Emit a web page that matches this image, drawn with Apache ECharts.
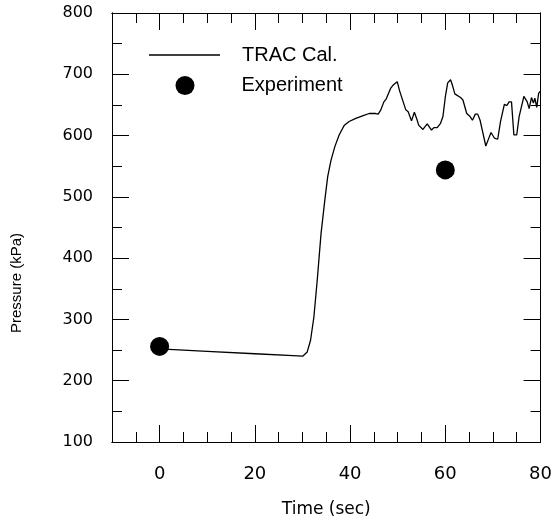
<!DOCTYPE html>
<html>
<head>
<meta charset="utf-8">
<script src="https://cdn.jsdelivr.net/npm/echarts@6/dist/echarts.min.js"></script>
<style>html,body{margin:0;padding:0;background:#fff;}#c{width:555px;height:524px;}</style>
</head>
<body>
<div id="c"></div>
<script>
// TRAC calculation: time (s) and pressure (kPa)
const tracTime = [0, 10, 20, 28, 30.05, 31.0, 31.7, 32.4, 33.1, 33.9, 34.7, 35.3, 36.0, 36.8, 37.7, 38.8, 39.8, 41.2, 42.9, 44.0, 44.7, 45.4, 45.9, 46.4, 47.1, 47.6, 48.0, 48.5, 49.0, 49.9, 50.4, 50.8, 51.7, 52.2, 52.9, 53.5, 54.1, 54.4, 55.3, 55.5, 56.2, 56.5, 57.1, 57.6, 58.3, 59.0, 59.5, 60.0, 60.5, 61.1, 61.5, 62.0, 62.4, 63.2, 63.7, 64.5, 65.2, 65.7, 66.3, 66.8, 67.3, 67.9, 68.5, 69.1, 69.6, 70.3, 71.0, 71.6, 72.4, 72.9, 73.4, 73.9, 74.4, 75.0, 75.5, 76.5, 77.2, 77.6, 78.1, 78.5, 78.8, 79.2, 79.6, 79.9];
const tracPressure = [252, 248, 244, 241, 240, 247, 266, 304, 364, 440, 495, 533, 560, 582, 601, 617, 623, 628, 633, 636, 636, 636, 635, 641, 655, 660, 661, 677, 682, 688, 673, 675, 642, 639, 624, 638, 625, 617, 610, 609, 619, 617, 609, 613, 613, 620, 631, 663, 686, 691, 682, 668, 666, 662, 658, 636, 631, 625, 635, 635, 625, 604, 583, 595, 605, 596, 594, 623, 651, 649, 655, 655, 601, 601, 631, 664, 655, 644, 662, 653, 661, 646, 669, 672];
// Experiment
const expTime = [0, 60];
const expPressure = [256, 544];
// Axis ticks
const xLabelValues = [0, 20, 40, 60, 80];
const xMajorTicks = [0, 20, 40, 60];
const xMinorTicks = [-5, 5, 10, 15, 25, 30, 35, 45, 50, 55, 65, 70, 75];
const yLabelValues = [100, 200, 300, 400, 500, 600, 700, 800];
const yMajorTicks = [200, 300, 400, 500, 600, 700];
const yMinorTicks = [150, 250, 350, 450, 550, 650, 750];

const lineC = '#000';
function xAx(pos, ticks, len, labels) {
  const a = {
    type: 'value', position: pos, min: -10, max: 80, gridIndex: 0,
    axisLine: {show: true, onZero: false, lineStyle: {color: lineC, width: 1}},
    axisTick: {show: true, inside: true, length: len, customValues: ticks, lineStyle: {color: lineC, width: 1}},
    splitLine: {show: false},
    axisLabel: {show: false}
  };
  if (labels) {
    a.axisLabel = {show: true, customValues: xLabelValues, margin: 23, color: '#000',
      fontFamily: 'DejaVu Sans', fontSize: 18};
    a.name = 'Time (sec)';
    a.nameLocation = 'middle';
    a.nameGap = 59;
    a.nameTextStyle = {color: '#000', fontFamily: 'DejaVu Sans', fontSize: 17};
  }
  return a;
}
function yAx(pos, ticks, len, labels) {
  const a = {
    type: 'value', position: pos, min: 100, max: 800, gridIndex: 0,
    axisLine: {show: true, onZero: false, lineStyle: {color: lineC, width: 1}},
    axisTick: {show: true, inside: true, length: len, customValues: ticks, lineStyle: {color: lineC, width: 1}},
    splitLine: {show: false},
    axisLabel: {show: false}
  };
  if (labels) {
    a.axisLabel = {show: true, customValues: yLabelValues, margin: 19, color: '#000',
      fontFamily: 'DejaVu Sans', fontSize: 16};
  }
  return a;
}

const chart = echarts.init(document.getElementById('c'), null, {renderer: 'canvas'});
chart.setOption({
  backgroundColor: '#fff',
  animation: false,
  grid: {left: 112, right: 13, top: 13, bottom: 82, containLabel: false},
  xAxis: [
    xAx('bottom', xMajorTicks, 17, true),
    xAx('bottom', xMinorTicks, 10, false),
    xAx('top', xMajorTicks, 17, false),
    xAx('top', xMinorTicks, 10, false)
  ],
  yAxis: [
    yAx('left', yMajorTicks, 17, true),
    yAx('left', yMinorTicks, 10, false),
    yAx('right', yMajorTicks, 17, false),
    yAx('right', yMinorTicks, 10, false)
  ],
  legend: [
    {
      orient: 'vertical', left: 149, top: 45, padding: 0, itemWidth: 71, itemHeight: 1.3,
      icon: 'rect', selectedMode: false,
      textStyle: {color: '#000', fontFamily: 'Liberation Sans', fontSize: 20, padding: [0, 0, 0, 17]},
      data: [{name: 'TRAC Cal.'}]
    },
    {
      orient: 'vertical', left: 175.5, top: 75.5, padding: 0, itemWidth: 71, itemHeight: 19,
      icon: 'circle', selectedMode: false,
      textStyle: {color: '#000', fontFamily: 'Liberation Sans', fontSize: 20, padding: [0, 0, 0, 16]},
      data: [{name: 'Experiment'}]
    }
  ],
  graphic: [{
    type: 'text', x: 17, y: 283, rotation: Math.PI / 2,
    style: {text: 'Pressure (kPa)', fill: '#000', fontFamily: 'Liberation Sans', fontSize: 15, align: 'center', verticalAlign: 'middle'}
  }],
  series: [
    {
      name: 'TRAC Cal.', type: 'line', xAxisIndex: 0, yAxisIndex: 0,
      data: tracTime.map((t, i) => [t, tracPressure[i]]),
      showSymbol: false, symbol: 'none', smooth: false,
      lineStyle: {color: '#000', width: 1.3}, itemStyle: {color: '#000'}
    },
    {
      name: 'Experiment', type: 'scatter', xAxisIndex: 0, yAxisIndex: 0,
      data: expTime.map((t, i) => [t, expPressure[i]]),
      symbol: 'circle', symbolSize: 19, itemStyle: {color: '#000', opacity: 1}
    }
  ]
});
</script>
</body>
</html>
